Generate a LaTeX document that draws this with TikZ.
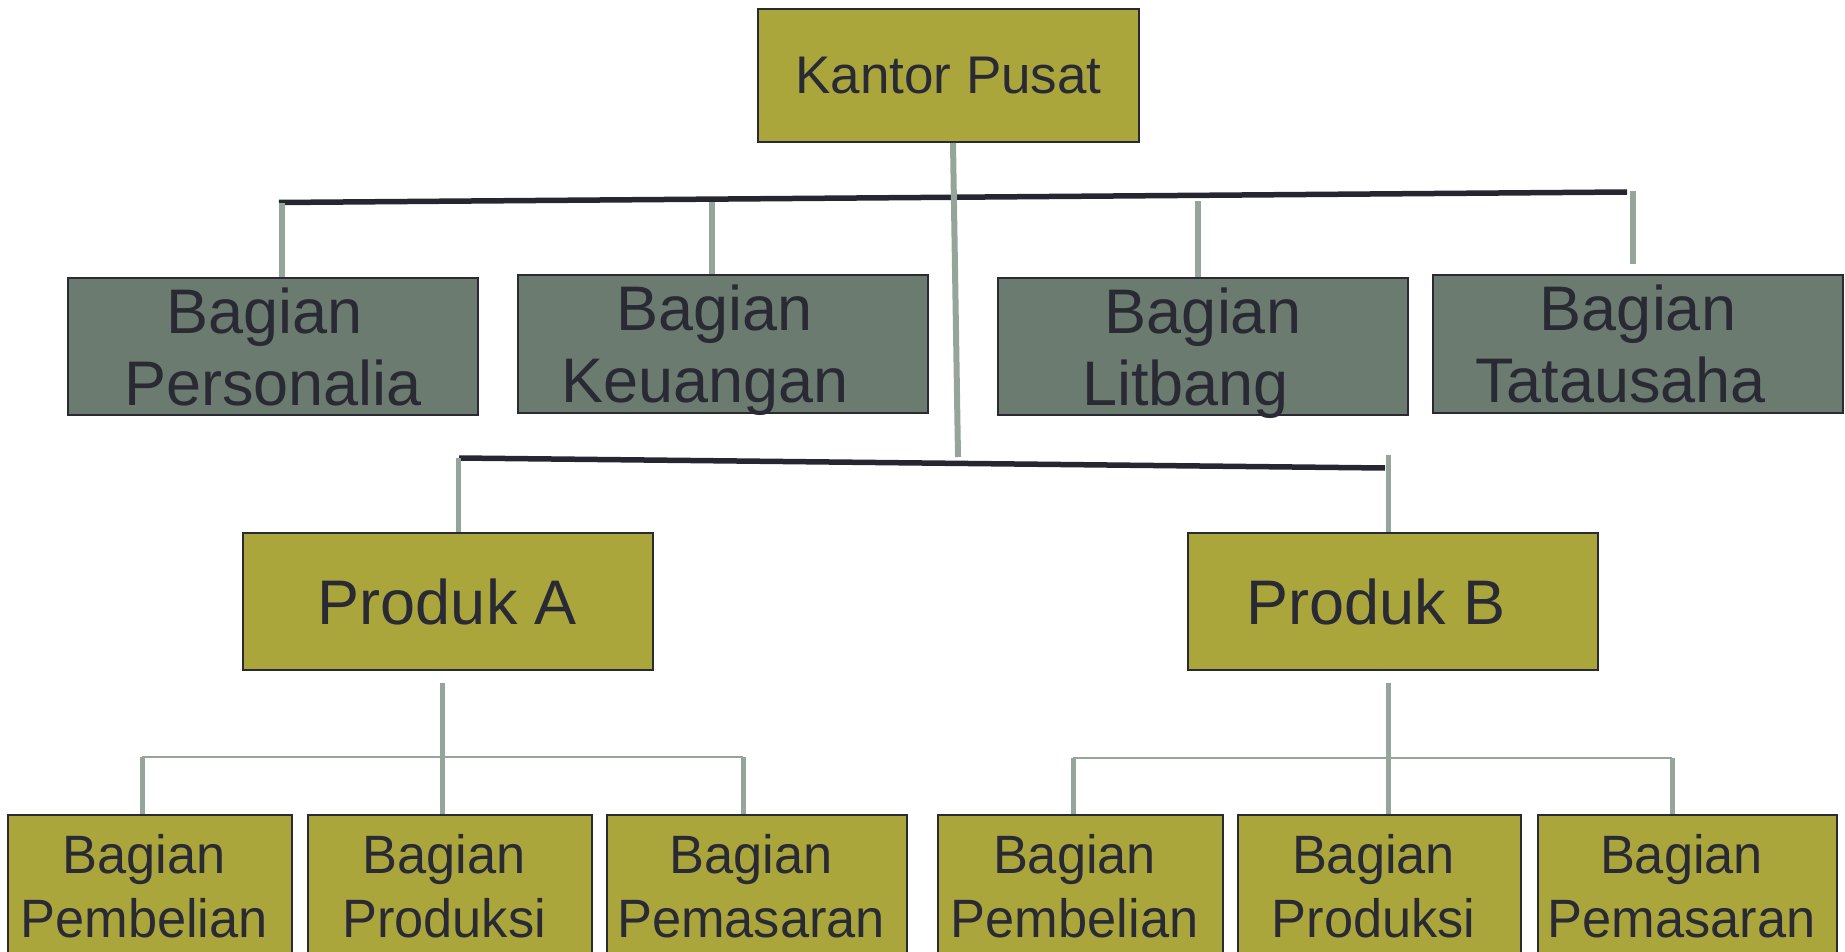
\documentclass[tikz,border=0pt]{standalone}
\usepackage{fontspec}
\setmainfont{Liberation Sans}
\newfontfamily\subfont[FakeStretch=0.97]{Liberation Sans}
\usetikzlibrary{calc}

\definecolor{boxolive}{HTML}{ABA63B}
\definecolor{boxsage}{HTML}{6B7B6F}
\definecolor{linkgray}{HTML}{95A59A}
\definecolor{bardark}{HTML}{262630}
\definecolor{inkdark}{HTML}{2A2A35}

\begin{document}
\begin{tikzpicture}[x=1pt,y=-1pt,
  unit/.style={draw=inkdark, line width=2pt, inner sep=0pt, text=inkdark,
               align=center, text depth=0pt},
  topunit/.style={unit, fill=boxolive, font=\fontsize{53}{61}\selectfont},
  staffunit/.style={unit, fill=boxsage, font=\fontsize{63}{72}\selectfont,
                    minimum width=410pt},
  produnit/.style={unit, fill=boxolive, font=\fontsize{63}{72}\selectfont,
                   minimum width=410pt, minimum height=137pt},
  subunit/.style={unit, fill=boxolive, font=\subfont\fontsize{54}{64}\selectfont,
                  minimum height=142pt},
  bar/.style={draw=bardark, line width=5.5pt},
  stub/.style={draw=linkgray, line width=6.5pt},
  midstub/.style={draw=linkgray, line width=5pt},
  thinlink/.style={draw=linkgray, line width=2.5pt}]

\useasboundingbox (0,0) rectangle (1845,952);
\clip (0,0) rectangle (1845,952);

% head office
\node[topunit, minimum width=381pt, minimum height=133pt] (kp) at (948.5,75.5) {Kantor Pusat};

% staff departments
\node[staffunit, minimum height=137pt] (pers) at (273,346.5)
  {Bagian\hspace*{0.28em}\\Personalia};
\node[staffunit, minimum height=138pt] (keu) at (723,344)
  {Bagian\hspace*{0.28em}\\Keuangan\hspace*{0.56em}};
\node[staffunit, minimum height=137pt] (lit) at (1203,346.5)
  {Bagian\\Litbang\hspace*{0.56em}};
\node[staffunit, minimum height=138pt] (tata) at (1638,344)
  {Bagian\\Tatausaha\hspace*{0.56em}};

% product divisions
\node[produnit] (pa) at (447.5,601.5) {Produk A};
\node[produnit] (pb) at (1393,601.5) {Produk B\hspace*{0.55em}};

% sub-departments
\node[subunit, minimum width=284pt] (a1) at (150,886)
  {Bagian\hspace*{0.22em}\\Pembelian\hspace*{0.22em}};
\node[subunit, minimum width=284pt] (a2) at (450,886)
  {Bagian\hspace*{0.22em}\\Produksi\hspace*{0.22em}};
\node[subunit, minimum width=300pt] (a3) at (757,886)
  {Bagian\hspace*{0.22em}\\Pemasaran\hspace*{0.22em}};
\node[subunit, minimum width=285pt] (b1) at (1080.5,886)
  {Bagian\hspace*{0.22em}\\Pembelian\hspace*{0.22em}};
\node[subunit, minimum width=283pt] (b2) at (1379.5,886)
  {Bagian\hspace*{0.22em}\\Produksi\hspace*{0.22em}};
\node[subunit, minimum width=299pt] (b3) at (1687.5,886)
  {Bagian\hspace*{0.22em}\\Pemasaran\hspace*{0.22em}};

% dark bars
\coordinate (barTopL) at (279,202.5);
\coordinate (barTopR) at (1627,192);
\coordinate (barMidL) at (459,458);
\coordinate (barMidR) at (1385,468);
\draw[bar] (barTopL) -- (barTopR);
\draw[bar] (barMidL) -- (barMidR);

% trunk from head office
\coordinate (trunkEnd) at (958,457);
\draw[draw=linkgray, line width=6pt] ($(kp.south)+(4.5,0)$) -- (trunkEnd);

% staff stubs
\coordinate (sPers) at (282,203);
\coordinate (sKeu) at (712,202);
\coordinate (sLit) at (1198,201);
\coordinate (sTata) at (1633,191);
\draw[stub] (sPers) -- (pers.north -| sPers);
\draw[stub] (sKeu) -- (keu.north -| sKeu);
\draw[stub] (sLit) -- (lit.north -| sLit);
\draw[stub] (sTata) -- ($(tata.north -| sTata)+(0,-10)$);

% product stubs
\coordinate (sPA) at (458,458);
\coordinate (sPB) at (1388,455);
\draw[midstub] (sPA) -- (pa.north -| sPA);
\draw[midstub] (sPB) -- (pb.north -| sPB);

% group A connectors
\coordinate (hubA) at (442,683);
\coordinate (railAL) at (142,757);
\coordinate (railAR) at (743,757);
\draw[thinlink] (railAL) -- (railAR);
\draw[midstub] (hubA) -- (a2.north -| hubA);
\draw[midstub] (railAL) -- (a1.north -| railAL);
\draw[midstub] (railAR) -- (a3.north -| railAR);

% group B connectors
\coordinate (hubB) at (1388,683);
\coordinate (railBL) at (1073,758);
\coordinate (railBR) at (1672,758);
\draw[thinlink] (railBL) -- (railBR);
\draw[midstub] (hubB) -- (b2.north -| hubB);
\draw[midstub] (railBL) -- (b1.north -| railBL);
\draw[midstub] (railBR) -- (b3.north -| railBR);
\end{tikzpicture}
\end{document}
